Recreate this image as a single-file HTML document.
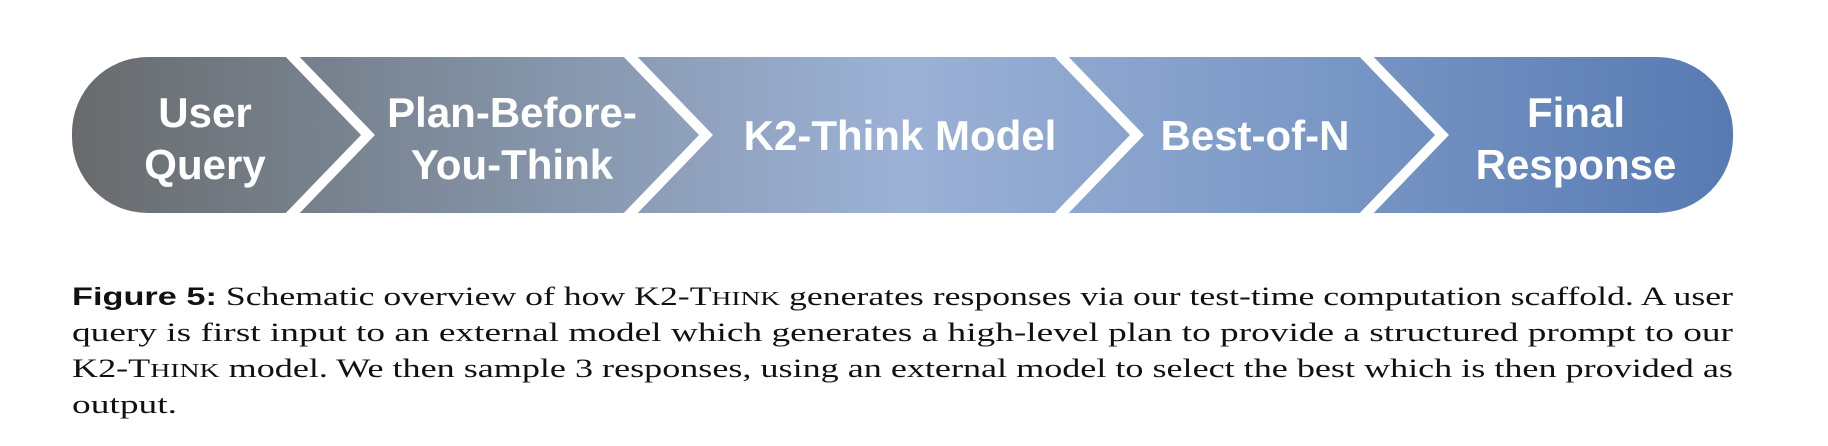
<!DOCTYPE html>
<html><head><meta charset="utf-8"><style>
html,body{margin:0;padding:0;background:#fff;width:1828px;height:446px;overflow:hidden}
svg{position:absolute;left:0;top:0}
</style></head><body>
<svg width="1828" height="446">
<defs>
<linearGradient id="g" x1="72" y1="0" x2="1733" y2="0" gradientUnits="userSpaceOnUse">
<stop offset="0" stop-color="#686b6d"/>
<stop offset="0.3" stop-color="#8797ad"/>
<stop offset="0.5" stop-color="#9cb1d6"/>
<stop offset="0.75" stop-color="#7a98c6"/>
<stop offset="1" stop-color="#577ab2"/>
</linearGradient>
<clipPath id="c"><rect x="72" y="57" width="1661" height="156" rx="76" ry="76"/></clipPath>
</defs>
<g clip-path="url(#c)">
<rect x="72" y="57" width="1661" height="156" fill="url(#g)"/>
<g fill="none" stroke="#fff" stroke-width="10" stroke-linejoin="miter">
<polyline points="286,50 368,135 286,220"/>
<polyline points="624,50 706,135 624,220"/>
<polyline points="1055,50 1137,135 1055,220"/>
<polyline points="1360,50 1442,135 1360,220"/>
</g>
</g>
<g fill="#fff" font-family="Liberation Sans, sans-serif" font-weight="bold" font-size="42" text-anchor="middle">
<text x="205" y="127">User</text>
<text x="205" y="179">Query</text>
<text x="512" y="127">Plan-Before-</text>
<text x="512" y="179">You-Think</text>
<text x="900" y="150">K2-Think Model</text>
<text x="1255" y="150">Best-of-N</text>
<text x="1576" y="127">Final</text>
<text x="1576" y="179">Response</text>
</g>
<g fill="#111" font-family="Liberation Serif, serif" font-size="26">
<text x="72" y="305" textLength="1661" lengthAdjust="spacingAndGlyphs"><tspan font-family="Liberation Sans, sans-serif" font-weight="bold" font-size="25">Figure 5:</tspan> Schematic overview of how K2-T<tspan font-size="20">HINK</tspan> generates responses via our test-time computation scaffold. A user</text>
<text x="72" y="341" textLength="1661" lengthAdjust="spacingAndGlyphs">query is first input to an external model which generates a high-level plan to provide a structured prompt to our</text>
<text x="72" y="377" textLength="1661" lengthAdjust="spacingAndGlyphs">K2-T<tspan font-size="20">HINK</tspan> model. We then sample 3 responses, using an external model to select the best which is then provided as</text>
<text x="72" y="413" textLength="105" lengthAdjust="spacingAndGlyphs">output.</text>
</g>
</svg>
</body></html>
